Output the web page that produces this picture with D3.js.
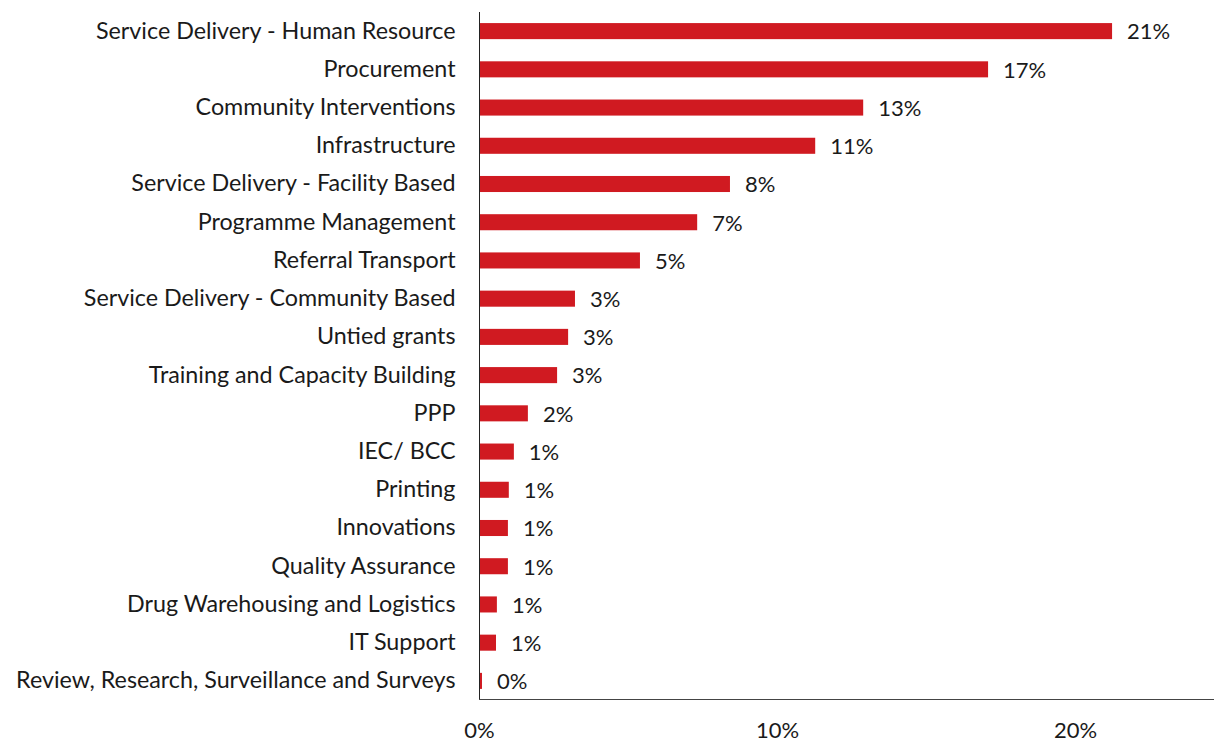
<!DOCTYPE html>
<html>
<head>
<meta charset="utf-8">
<script src="https://cdn.jsdelivr.net/npm/d3@7"></script>
<style>
  body { margin: 0; background: #fff; }
  svg text { font-family: Lato, "Open Sans", sans-serif; fill: #1a1a1a; }
</style>
</head>
<body>
<svg id="chart" width="1214" height="744"></svg>
<script>
// categories, top to bottom
const categories = [
    "Service Delivery - Human Resource",
    "Procurement",
    "Community Interventions",
    "Infrastructure",
    "Service Delivery - Facility Based",
    "Programme Management",
    "Referral Transport",
    "Service Delivery - Community Based",
    "Untied grants",
    "Training and Capacity Building",
    "PPP",
    "IEC/ BCC",
    "Printing",
    "Innovations",
    "Quality Assurance",
    "Drug Warehousing and Logistics",
    "IT Support",
    "Review, Research, Surveillance and Surveys"
];
// share of budget (fraction)
const shares = [0.2124, 0.1708, 0.1289, 0.1128, 0.0842, 0.0732, 0.0540, 0.0322, 0.0299, 0.0262,
                0.0164, 0.0117, 0.0100, 0.0097, 0.0097, 0.0060, 0.0057, 0.0010];
const xTicks = [0, 0.1, 0.2];

const BAR_COLOR = "#d01a21";
const AXIS_X = 479;
const TOP = 12;
const BOTTOM = 699.5;

const svg = d3.select("#chart");
const data = categories.map((c, i) => ({name: c, value: shares[i]}));

const x = d3.scaleLinear()
    .domain([0, 0.2466])
    .range([AXIS_X, 1214]);

const y = d3.scaleBand()
    .domain(categories)
    .range([TOP, 700])
    .paddingInner(0.58)
    .paddingOuter(0.29);

const pct = d3.format(".0%");

// bars
svg.append("g")
    .selectAll("rect")
    .data(data).enter()
    .append("rect")
    .attr("x", x(0))
    .attr("y", d => y(d.name))
    .attr("width", d => x(d.value) - x(0))
    .attr("height", y.bandwidth())
    .attr("fill", BAR_COLOR);

// value labels
svg.append("g")
    .selectAll("text")
    .data(data).enter()
    .append("text")
    .attr("x", d => x(d.value) + 15)
    .attr("y", d => y(d.name) + y.bandwidth() / 2)
    .attr("dy", "0.38em")
    .attr("font-size", 22)
    .text(d => pct(d.value));

// left axis: category names
const yAxis = svg.append("g")
    .attr("transform", `translate(${AXIS_X + 0.5},0)`)
    .call(d3.axisLeft(y).tickSize(0).tickPadding(24));
yAxis.select(".domain").attr("stroke", "#222").attr("d", `M0,${TOP}V${BOTTOM}`);
yAxis.selectAll("text")
    .attr("font-size", 23.3)
    .style("font-family", "Lato, sans-serif")
    .attr("fill", "#1a1a1a");

// bottom axis
const xAxis = svg.append("g")
    .attr("transform", `translate(0,${BOTTOM})`)
    .call(d3.axisBottom(x).tickValues(xTicks).tickFormat(pct).tickSize(0).tickPadding(23));
xAxis.select(".domain").attr("stroke", "#444").attr("d", `M${AXIS_X},0H1214`);
xAxis.selectAll("text")
    .attr("font-size", 22)
    .style("font-family", "Lato, sans-serif")
    .attr("fill", "#1a1a1a");
</script>
</body>
</html>
